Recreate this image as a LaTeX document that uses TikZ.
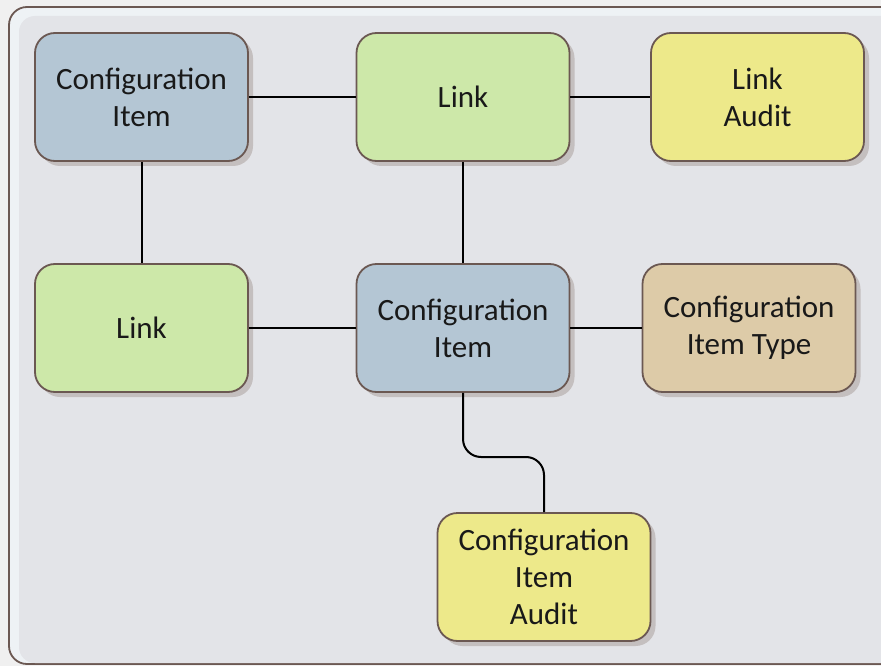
\documentclass[tikz,border=0pt]{standalone}
\usepackage{fontspec}
\setmainfont{Carlito}
\usetikzlibrary{shadows}
\definecolor{bgout}{HTML}{F0F0F0}
\definecolor{frameband}{HTML}{EEF2F5}
\definecolor{framein}{HTML}{E3E4E8}
\definecolor{edgebrown}{HTML}{6B5852}
\definecolor{ciblue}{HTML}{B4C6D4}
\definecolor{linkgreen}{HTML}{CDE8A9}
\definecolor{audityellow}{HTML}{EDE98A}
\definecolor{typetan}{HTML}{DDCBA8}
\definecolor{shadowgray}{HTML}{C4BFBF}
\tikzset{
  entity/.style={draw=edgebrown, line width=1.8pt, rounded corners=20pt,
    minimum width=213pt, minimum height=128pt, align=center,
    font=\fontsize{31}{37}\selectfont, text=black!90,
    drop shadow={shadow xshift=5pt, shadow yshift=-5pt, fill=shadowgray, opacity=1}},
  cibox/.style={entity, fill=ciblue},
  linkbox/.style={entity, fill=linkgreen},
  auditbox/.style={entity, fill=audityellow},
  typebox/.style={entity, fill=typetan},
  conn/.style={line width=2pt, black}
}
\begin{document}
\begin{tikzpicture}[x=1pt,y=-1pt]
\useasboundingbox (0,0) rectangle (881,666);
\clip (0,0) rectangle (881,666);
\fill[bgout] (0,0) rectangle (881,666);
\draw[draw=edgebrown, line width=1.8pt, fill=frameband, rounded corners=18pt] (9,7) rectangle (900,664);
\fill[framein, rounded corners=16pt] (19,16) rectangle (898,663);

\node[cibox]    (ci1)  at (141.5,97)  {Configuration\\Item};
\node[linkbox]  (lk1)  at (463,97)    {Link};
\node[auditbox] (lka)  at (757.5,97)  {Link\\Audit};
\node[linkbox]  (lk2)  at (141.5,328) {Link};
\node[cibox]    (ci2)  at (463,328)   {Configuration\\Item};
\node[typebox]  (cit)  at (749,328)   {Configuration\\Item Type};
\node[auditbox] (cia)  at (544,577)   {Configuration\\Item\\Audit};
\coordinate (bend) at (544,457);

\draw[conn] (ci1) -- (lk1);
\draw[conn] (lk1) -- (lka);
\draw[conn] (ci1) -- (lk2);
\draw[conn] (lk1) -- (ci2);
\draw[conn] (lk2) -- (ci2);
\draw[conn] (ci2) -- (cit);
\draw[conn, rounded corners=18pt] (ci2.south) |- (bend) -- (cia.north);
\end{tikzpicture}
\end{document}
